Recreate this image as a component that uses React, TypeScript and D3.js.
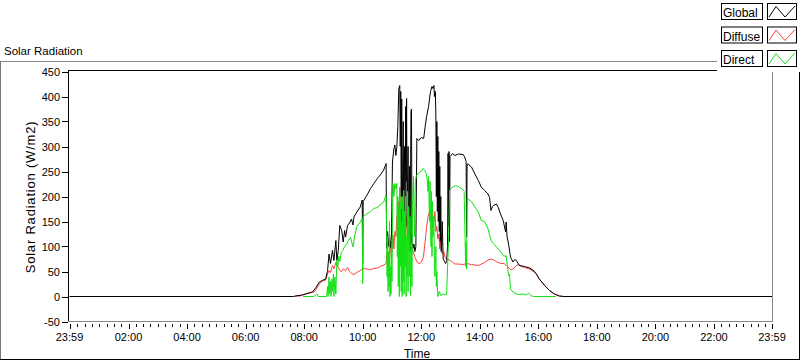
import React from "react";
import * as d3 from "d3";

// ---- data (time in minutes after midnight, W/m2) ----
const xTickMinutes = [-1, 120, 240, 360, 480, 600, 720, 840, 960, 1080, 1200, 1320, 1439];
const xTickLabels = ["23:59", "02:00", "04:00", "06:00", "08:00", "10:00", "12:00", "14:00", "16:00", "18:00", "20:00", "22:00", "23:59"];
const yTickValues = [-50, 0, 50, 100, 150, 200, 250, 300, 350, 400, 450];

const seriesNames = ["Global", "Diffuse", "Direct"];
const seriesColors = ["#000000", "#ff4040", "#12e012"];

const globalData: [number, number][] = [
  [-1, 0], [458, 0], [462, 1], [476, 3], [490, 7], [497, 9], [505, 19], [511, 29], [517, 32], [524, 35],
  [528, 52], [531, 85], [534, 66], [538, 92], [541, 72], [545, 112], [547, 72], [550, 92], [553, 142],
  [557, 132], [560, 109], [563, 132], [565, 119], [569, 142], [573, 147], [577, 155], [580, 143], [582, 159],
  [588, 169], [595, 179], [599, 193], [600, 66], [601, 190], [609, 203], [616, 216], [623, 226], [630, 236],
  [636, 243], [643, 253], [648, 266], [649, 96], [651, 130], [653, 100], [655, 125], [657, 98], [659, 120],
  [661, 269], [664, 296], [666, 303], [668, 282], [670, 300], [672, 340], [674, 416], [676, 422], [677, 300],
  [678, 410], [679, 200], [680, 395], [681, 140], [683, 350], [684, 170], [686, 300], [687, 110], [688, 380],
  [689, 230], [690, 396], [691, 140], [693, 300], [694, 120], [696, 260], [697, 90], [699, 370], [700, 375],
  [701, 110], [703, 96], [705, 105], [707, 90], [709, 100], [711, 316], [715, 312], [720, 318], [725, 316],
  [728, 340], [731, 360], [735, 380], [739, 410], [742, 420], [744, 416], [746, 422], [747, 400], [749, 410],
  [750, 360], [751, 200], [752, 350], [753, 170], [754, 320], [755, 150], [756, 290], [757, 130], [758, 260],
  [759, 110], [760, 200], [761, 90], [763, 150], [765, 75], [768, 70], [770, 66], [772, 72], [774, 100],
  [775, 286], [776, 140], [777, 290], [778, 110], [779, 280], [781, 282], [784, 286], [789, 282], [796, 285],
  [806, 284], [809, 279], [812, 270], [813, 119], [814, 265], [816, 265], [823, 259], [830, 245], [837, 232],
  [843, 219], [850, 212], [857, 205], [860, 198], [863, 172], [866, 180], [868, 182], [874, 185], [878, 178],
  [881, 169], [888, 152], [893, 129], [894, 149], [896, 119], [899, 105], [903, 79], [908, 69], [912, 74],
  [915, 72], [921, 62], [932, 60], [942, 57], [949, 53], [956, 45], [962, 35], [973, 22], [983, 12],
  [993, 5], [1003, 1], [1012, 0], [1439, 0],
];

const diffuseData: [number, number][] = [
  [460, 0], [463, 1], [472, 1], [476, 3], [490, 7], [500, 9], [505, 15], [511, 25], [517, 30], [524, 33],
  [528, 45], [531, 52], [534, 48], [538, 62], [541, 55], [545, 68], [550, 58], [553, 52], [557, 50],
  [560, 55], [565, 52], [569, 58], [573, 50], [577, 46], [582, 44], [588, 48], [595, 52], [601, 56],
  [609, 55], [616, 54], [623, 56], [630, 57], [636, 60], [643, 63], [648, 66], [650, 90], [652, 80],
  [654, 62], [656, 85], [658, 110], [660, 90], [662, 123], [664, 95], [666, 130], [668, 120], [670, 160],
  [672, 170], [674, 190], [675, 150], [676, 218], [677, 195], [678, 140], [680, 175], [681, 120], [682, 150],
  [684, 100], [686, 145], [688, 110], [690, 160], [692, 120], [694, 140], [696, 100], [698, 130], [700, 110],
  [702, 96], [705, 85], [708, 76], [712, 68], [716, 66], [720, 68], [723, 75], [725, 83], [728, 110],
  [731, 140], [734, 160], [737, 169], [740, 172], [743, 165], [746, 150], [748, 170], [750, 130], [752, 140],
  [754, 115], [756, 125], [758, 95], [760, 110], [763, 85], [766, 90], [769, 78], [772, 75], [780, 72],
  [789, 65], [796, 65], [806, 64], [813, 66], [823, 64], [837, 62], [850, 68], [857, 73], [863, 75],
  [870, 72], [877, 68], [884, 66], [890, 66], [896, 60], [900, 57], [904, 53], [910, 57], [915, 62],
  [920, 64], [925, 60], [932, 58], [942, 55], [949, 51], [956, 45], [962, 35], [973, 22], [983, 12],
  [993, 5], [1003, 1], [1014, 0],
];

const directData: [number, number][] = [
  [478, 0], [500, 0], [503, 3], [506, 5], [509, 0], [526, 0], [528, 20], [529, 0], [531, 39], [532, 5],
  [534, 30], [535, 0], [537, 35], [538, 10], [540, 45], [541, 0], [543, 39], [545, 5], [547, 72], [549, 60],
  [551, 80], [553, 70], [556, 88], [559, 92], [563, 100], [567, 105], [571, 112], [575, 118], [580, 99],
  [584, 123], [588, 140], [595, 149], [599, 156], [600, 26], [601, 160], [605, 163], [616, 170], [623, 176],
  [630, 178], [636, 183], [643, 189], [648, 203], [649, 149], [650, 40], [651, 120], [652, 10], [653, 90],
  [654, 20], [655, 150], [656, 0], [657, 60], [658, 5], [659, 100], [660, 30], [661, 150], [662, 226],
  [664, 200], [666, 226], [668, 215], [670, 226], [671, 80], [672, 200], [673, 20], [674, 180], [675, 0],
  [676, 212], [677, 60], [678, 190], [679, 10], [680, 150], [681, 0], [682, 200], [683, 30], [684, 212],
  [685, 5], [686, 170], [687, 60], [688, 200], [689, 0], [690, 120], [691, 40], [692, 210], [693, 10],
  [694, 180], [696, 40], [697, 160], [698, 2], [700, 100], [701, 20], [702, 180], [704, 240], [706, 120],
  [708, 230], [710, 242], [713, 245], [716, 248], [720, 250], [724, 256], [727, 252], [730, 246], [732, 236],
  [734, 210], [735, 240], [737, 150], [738, 230], [740, 100], [741, 210], [742, 80], [743, 190], [744, 120],
  [746, 160], [747, 60], [748, 40], [750, 100], [751, 20], [752, 50], [754, 0], [757, 10], [760, 2],
  [765, 5], [770, 3], [772, 5], [774, 59], [776, 112], [778, 212], [780, 215], [785, 219], [790, 222],
  [796, 220], [804, 215], [808, 210], [811, 60], [812, 110], [813, 55], [814, 195], [816, 195], [823, 190],
  [830, 179], [837, 169], [843, 152], [850, 150], [857, 135], [863, 112], [868, 106], [874, 99], [881, 92],
  [888, 82], [893, 80], [894, 82], [896, 65], [899, 42], [901, 45], [903, 15], [908, 9], [915, 5],
  [921, 4], [930, 5], [935, 3], [940, 7], [945, 2], [950, 0], [996, 0],
];

const FONT = "'Liberation Sans', Arial, sans-serif";

export default function App() {
  const W = 800;
  const H = 361;
  const x = d3.scaleLinear().domain([-1, 1439]).range([69.5, 772]);
  const y = d3.scaleLinear().domain([-50, 450]).range([321.5, 71.5]);
  const line = d3
    .line<[number, number]>()
    .x((d) => x(d[0]))
    .y((d) => y(d[1]));

  const minorTicks = d3.range(15, 1439, 15).filter((m) => m % 120 !== 0);

  const drawOrder = [1, 0, 2];
  const dataBySeries = [globalData, diffuseData, directData];

  const legendRows = [3, 26.5, 50];

  return (
    <svg
      width={W}
      height={H}
      style={{ position: "absolute", left: 0, top: 0, display: "block", background: "#fff" }}
      fontFamily={FONT}
    >
      <rect x={0} y={0} width={W} height={H} fill="#fff" />
      {/* title */}
      <text x={4} y={55} fontSize={11.5} fill="#000">Solar Radiation</text>
      {/* outer frame */}
      <line x1={0} x2={W} y1={61.5} y2={61.5} stroke="#888" />
      <line x1={0.5} x2={0.5} y1={61} y2={360} stroke="#777" />
      <line x1={0} x2={W} y1={359.5} y2={359.5} stroke="#000" />
      <line x1={799.5} x2={799.5} y1={61} y2={360} stroke="#000" />

      {/* plot frame */}
      <line x1={68} x2={773} y1={70.5} y2={70.5} stroke="#000" />
      <line x1={68.5} x2={68.5} y1={70} y2={322} stroke="#000" />
      <line x1={772.5} x2={772.5} y1={71} y2={322} stroke="#888" />
      <line x1={68} x2={773} y1={321.5} y2={321.5} stroke="#888" />

      {/* y ticks */}
      {yTickValues.map((v) => (
        <g key={v}>
          <line x1={62} x2={68} y1={Math.round(y(v)) + 0.5} y2={Math.round(y(v)) + 0.5} stroke="#000" />
          <text x={60} y={y(v) + 4} fontSize={11} textAnchor="end" fill="#000">{v}</text>
        </g>
      ))}

      {/* x ticks */}
      {minorTicks.map((m) => (
        <line key={m} x1={Math.round(x(m)) + 0.5} x2={Math.round(x(m)) + 0.5} y1={324} y2={327} stroke="#000" />
      ))}
      {xTickMinutes.map((m, i) => (
        <g key={i}>
          <line x1={Math.round(x(m)) + 0.5} x2={Math.round(x(m)) + 0.5} y1={324} y2={329} stroke="#000" />
          <text x={x(m)} y={341} fontSize={11} textAnchor="middle" fill="#000">{xTickLabels[i]}</text>
        </g>
      ))}

      {/* axis titles */}
      <text x={417} y={357.5} fontSize={12} textAnchor="middle" fill="#000">Time</text>
      <text
        transform={`translate(35,197) rotate(-90)`}
        fontSize={13}
        letterSpacing={0.8}
        textAnchor="middle"
        fill="#000"
      >
        Solar Radiation (W/m2)
      </text>

      {/* series */}
      <g>
        {drawOrder.map((i) => (
          <path
            key={i}
            d={line(dataBySeries[i]) || ""}
            fill="none"
            stroke={seriesColors[i]}
            strokeWidth={1}
          />
        ))}
      </g>

      {/* legend */}
      <rect x={717} y={0} width={83} height={72} fill="#fff" />
      {seriesNames.map((name, i) => {
        const ty = legendRows[i];
        return (
          <g key={name}>
            <rect x={721.5} y={ty + 0.5} width={41} height={16} fill="#fff" stroke="#000" />
            <text x={723} y={ty + 14} fontSize={12} fill="#000">{name}</text>
            <rect x={767.5} y={ty + 0.5} width={29} height={16} fill="#fff" stroke="#000" />
            <polyline
              points={`${769},${ty + 14} ${776},${ty + 3.5} ${785},${ty + 14} ${795},${ty + 3}`}
              fill="none"
              stroke={seriesColors[i]}
            />
          </g>
        );
      })}
    </svg>
  );
}
